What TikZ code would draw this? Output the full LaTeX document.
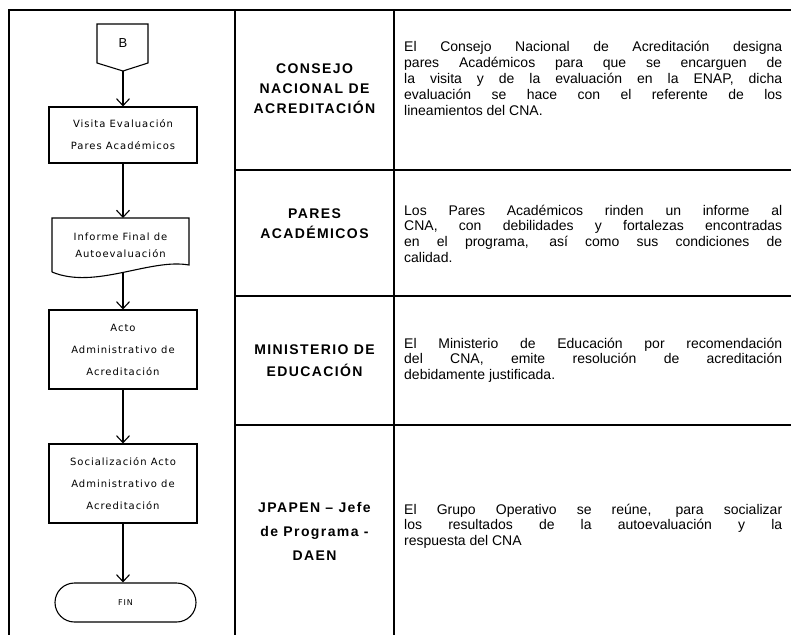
\documentclass[tikz,border=0pt]{standalone}
\usepackage{fontspec}
\setmainfont{Liberation Sans}
\newfontfamily\flowfont[LetterSpace=10]{DejaVu Sans}
\newfontfamily\headfont[LetterSpace=10]{Liberation Sans}
\usetikzlibrary{positioning,arrows.meta}

\begin{document}
\begin{tikzpicture}[x=1pt,y=-1pt,
  flow/.style={line width=1.1pt,-{Straight Barb[length=7pt,width=13pt]}},
  box/.style={draw,line width=1.1pt,minimum width=148pt,inner sep=0pt,align=center,
    font=\flowfont\fontsize{10}{22}\selectfont},
  rule/.style={line width=1.8pt},
  who/.style={align=center,font=\headfont\bfseries\fontsize{14}{20}\selectfont},
  what/.style={anchor=base west,inner sep=0pt,text width=378pt,align=justify,
    font=\fontsize{14}{15.8}\selectfont}]
\useasboundingbox (0,0) rectangle (791,634);
\draw[rule] (9,640)--(9,10)--(800,10);
\draw[rule] (235,10)--(235,640);
\draw[rule] (394,10)--(394,640);
\foreach \y in {170,296,425}
  \draw[rule] (235,\y)--(800,\y);
\draw[line width=1.1pt] (97,24)--(148,24)--(148,63)--(123,71)--(97,63)--cycle;
\node[font=\fontsize{13}{15}\selectfont] (b) at (123,43) {B};
\coordinate (bTip) at (123,71);
\node[box,minimum height=56pt] (visita) at (123,135) {Visita Evaluación\\Pares Académicos};
\draw[line width=1.1pt] (52,272)--(52,218)--(189,218)--(189,265)
  .. controls (150,258) and (95,290) .. (52,272);
\node[align=center,inner sep=0pt,font=\flowfont\fontsize{10}{17}\selectfont] (informe) at (120.5,245.5)
  {Informe Final de\\Autoevaluación};
\coordinate (docTop) at (123,218);
\coordinate (docBot) at (123,273);
\node[box,minimum height=79pt] (acto) at (123,349.5) {Acto\\Administrativo de\\Acreditación};
\node[box,minimum height=79pt] (social) at (123,483.5) {Socialización Acto\\Administrativo de\\Acreditación};
\node[draw,line width=1.1pt,rounded corners=19.5pt,minimum width=141pt,minimum height=39pt,
  font=\flowfont\fontsize{8}{10}\selectfont] (fin) at (125.5,602.5) {FIN};
\draw[flow] (bTip)--(visita);
\draw[flow] (visita)--(docTop);
\draw[flow] (docBot)--(acto);
\draw[flow] (acto)--(social);
\draw[flow] (social.south)--(social.south |- fin.north);
\node[who] (consejo) at (314.5,89) {CONSEJO\\NACIONAL DE\\ACREDITACIÓN};
\node[who] (pares) at (314.5,224) {PARES\\ACADÉMICOS};
\node[who,font=\headfont\bfseries\fontsize{14}{22}\selectfont] (ministerio) at (314.5,361) {MINISTERIO DE\\EDUCACIÓN};
\node[who,font=\headfont\bfseries\fontsize{14}{24}\selectfont] (jpapen) at (314.5,531) {JPAPEN – Jefe\\de Programa -\\DAEN};
\node[what] (txtConsejo) at (404,52) {El Consejo Nacional de Acreditación designa\linebreak
  pares Académicos para que se encarguen de\linebreak
  la visita y de la evaluación en la ENAP, dicha\linebreak
  evaluación se hace con el referente de los\linebreak
  lineamientos del CNA.};
\node[what] (txtPares) at (404,215) {Los Pares Académicos rinden un informe al\linebreak
  CNA, con debilidades y fortalezas encontradas\linebreak
  en el programa, así como sus condiciones de\linebreak
  calidad.};
\node[what] (txtMinisterio) at (404,348) {El Ministerio de Educación por recomendación\linebreak
  del CNA, emite resolución de acreditación\linebreak
  debidamente justificada.};
\node[what] (txtJpapen) at (404,514) {El Grupo Operativo se reúne, para socializar\linebreak
  los resultados de la autoevaluación y la\linebreak
  respuesta del CNA};
\end{tikzpicture}
\end{document}
